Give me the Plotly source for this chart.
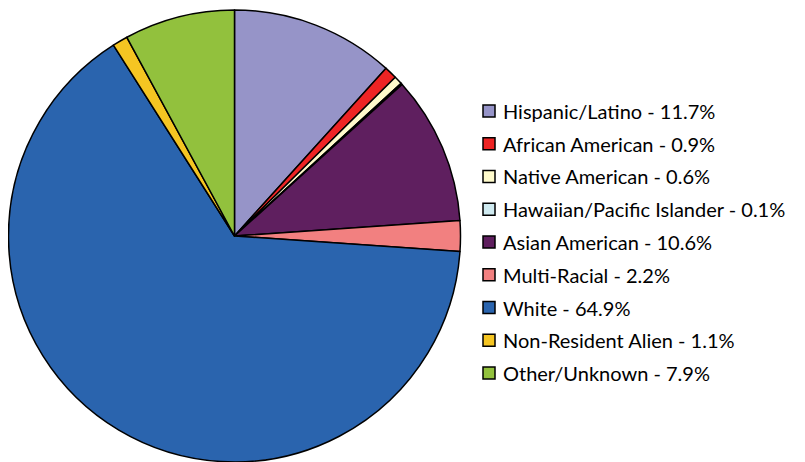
import plotly.graph_objects as go

labels = ["Hispanic/Latino", "African American", "Native American",
          "Hawaiian/Pacific Islander", "Asian American", "Multi-Racial",
          "White", "Non-Resident Alien", "Other/Unknown"]
values = [11.7, 0.9, 0.6, 0.1, 10.6, 2.2, 64.9, 1.1, 7.9]
colors = ["#9694C8", "#EE2424", "#FFFBCC", "#CFEAF0", "#5F1F5F",
          "#F28080", "#2A64AE", "#F5C522", "#92C13D"]

W, H = 805, 462
OFF = 8  # page body margin
cx, cy, r = 234.5 - OFF, 236 - OFF, 226

fig = go.Figure(go.Pie(
    labels=labels, values=values, sort=False, direction="clockwise",
    rotation=0, textinfo="none", hoverinfo="label+percent",
    marker=dict(colors=colors, line=dict(color="black", width=1.5)),
    domain=dict(x=[(cx - r) / W, (cx + r) / W],
                y=[(H - cy - r) / H, (H - cy + r) / H]),
    showlegend=False,
))

# custom legend
y0, dy = 111 - OFF, 32.75
bx0, bsize, tx = 483 - OFF, 12, 501 - OFF
shapes, annots = [], []
for i, (lab, val, col) in enumerate(zip(labels, values, colors)):
    yc = y0 + i * dy
    shapes.append(dict(type="rect", xref="paper", yref="paper",
                       x0=bx0 / W, x1=(bx0 + bsize) / W,
                       y0=(H - yc - bsize / 2) / H, y1=(H - yc + bsize / 2) / H,
                       fillcolor=col, line=dict(color="black", width=1.5)))
    annots.append(dict(xref="paper", yref="paper", x=tx / W, y=(H - yc) / H,
                       xanchor="left", yanchor="middle", showarrow=False,
                       text=f"{lab} - {val}%",
                       font=dict(family="Lato", size=20, color="black")))

fig.update_layout(width=W, height=H, margin=dict(l=0, r=0, t=0, b=0),
                  paper_bgcolor="white", plot_bgcolor="white",
                  shapes=shapes, annotations=annots)
fig.write_html("out.html")
